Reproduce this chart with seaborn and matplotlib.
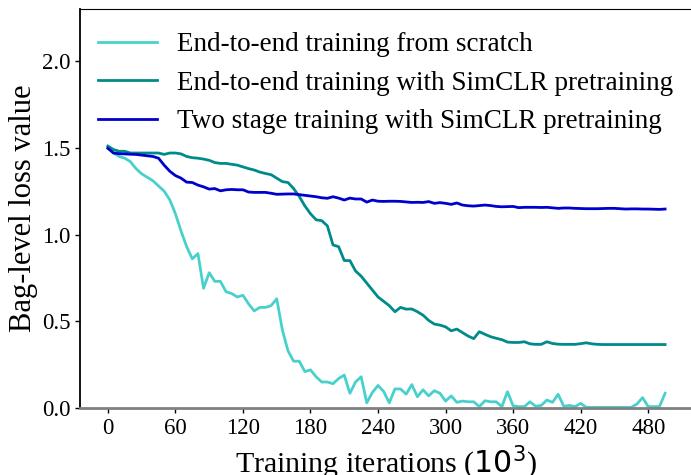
import numpy as np
import pandas as pd
import seaborn as sns
import matplotlib
matplotlib.use("Agg")
import matplotlib.pyplot as plt

# training iterations (x 10^3), one point every 5k
iters = list(range(0, 500, 5))

scratch = [1.50, 1.47, 1.45, 1.44, 1.42, 1.38, 1.35, 1.33, 1.31, 1.28,
           1.25, 1.20, 1.12, 1.02, 0.93, 0.86, 0.89, 0.69, 0.78, 0.73,
           0.73, 0.67, 0.66, 0.64, 0.65, 0.60, 0.56, 0.58, 0.58, 0.59,
           0.63, 0.45, 0.33, 0.27, 0.27, 0.21, 0.22, 0.18, 0.15, 0.15,
           0.14, 0.17, 0.19, 0.085, 0.15, 0.18, 0.03, 0.09, 0.13, 0.095,
           0.03, 0.11, 0.11, 0.08, 0.135, 0.065, 0.105, 0.07, 0.10, 0.085,
           0.04, 0.07, 0.033, 0.04, 0.036, 0.036, 0.008, 0.042, 0.036, 0.036,
           0.008, 0.094, 0.013, 0.008, 0.008, 0.036, 0.01, 0.015, 0.046, 0.033,
           0.079, 0.01, 0.015, 0.008, 0.027, 0.004, 0.004, 0.004, 0.004, 0.004,
           0.004, 0.004, 0.004, 0.004, 0.023, 0.06, 0.008, 0.008, 0.008, 0.085]

simclr_e2e = [1.51, 1.49, 1.48, 1.48, 1.47, 1.47, 1.47, 1.47, 1.47, 1.47,
              1.462, 1.47, 1.47, 1.465, 1.45, 1.443, 1.44, 1.435, 1.428, 1.415,
              1.41, 1.41, 1.405, 1.40, 1.39, 1.38, 1.372, 1.36, 1.352, 1.345,
              1.325, 1.305, 1.30, 1.265, 1.22, 1.165, 1.12, 1.085, 1.08, 1.05,
              0.94, 0.93, 0.85, 0.85, 0.79, 0.76, 0.72, 0.68, 0.64, 0.615,
              0.59, 0.555, 0.58, 0.57, 0.571, 0.555, 0.535, 0.505, 0.484, 0.478,
              0.468, 0.445, 0.455, 0.435, 0.415, 0.40, 0.44, 0.425, 0.411, 0.402,
              0.394, 0.38, 0.378, 0.378, 0.382, 0.37, 0.367, 0.367, 0.382, 0.372,
              0.368, 0.367, 0.367, 0.367, 0.371, 0.376, 0.37, 0.367, 0.366, 0.366,
              0.366, 0.366, 0.366, 0.366, 0.366, 0.366, 0.366, 0.366, 0.366, 0.366]

two_stage = [1.497, 1.47, 1.466, 1.465, 1.463, 1.462, 1.458, 1.454, 1.45, 1.44,
             1.40, 1.365, 1.34, 1.325, 1.302, 1.30, 1.285, 1.275, 1.262, 1.265,
             1.252, 1.258, 1.26, 1.258, 1.258, 1.245, 1.243, 1.243, 1.243, 1.238,
             1.232, 1.233, 1.234, 1.234, 1.23, 1.226, 1.222, 1.218, 1.212, 1.209,
             1.218, 1.21, 1.199, 1.21, 1.205, 1.205, 1.187, 1.199, 1.192, 1.191,
             1.192, 1.192, 1.191, 1.188, 1.185, 1.186, 1.185, 1.19, 1.18, 1.184,
             1.18, 1.174, 1.182, 1.17, 1.166, 1.164, 1.167, 1.17, 1.167, 1.162,
             1.16, 1.161, 1.162, 1.155, 1.157, 1.157, 1.157, 1.156, 1.157, 1.154,
             1.151, 1.153, 1.153, 1.151, 1.15, 1.149, 1.149, 1.149, 1.15, 1.151,
             1.151, 1.149, 1.147, 1.148, 1.148, 1.147, 1.147, 1.146, 1.145, 1.147]

labels = ["End-to-end training from scratch",
          "End-to-end training with SimCLR pretraining",
          "Two stage training with SimCLR pretraining"]
colors = ["mediumturquoise", "darkcyan", "mediumblue"]

df = pd.DataFrame({
    "iter": iters * 3,
    "loss": scratch + simclr_e2e + two_stage,
    "method": [labels[0]] * len(iters) + [labels[1]] * len(iters) + [labels[2]] * len(iters),
})

plt.rcParams["font.family"] = ["Liberation Serif", "DejaVu Sans"]
plt.rcParams["mathtext.fontset"] = "dejavusans"

fig = plt.figure(figsize=(6.91, 4.75), dpi=100)
ax = fig.add_axes([0.1158, 0.141, 0.887, 0.84])

sns.lineplot(data=df, x="iter", y="loss", hue="method", hue_order=labels,
             palette=colors, linewidth=2, ax=ax)

ax.set_ylim(0, 2.3)
ax.set_xticks(range(0, 481, 60))
ax.set_yticks([0.0, 0.5, 1.0, 1.5, 2.0])
ax.set_yticklabels(["0.0", "0.5", "1.0", "1.5", "2.0"])
ax.tick_params(labelsize=16.5, length=3.5, width=1)
ax.set_xlabel("Training iterations ($10^3$)", fontsize=21.5, labelpad=4)
ax.set_ylabel("Bag-level loss value", fontsize=22, labelpad=3)

ax.spines["bottom"].set_color("gray")
ax.spines["bottom"].set_linewidth(2)
ax.spines["left"].set_linewidth(1.3)

ax.legend(frameon=False, fontsize=19.5, loc="upper left",
          bbox_to_anchor=(-0.009, 1.0),
          handlelength=2.2, handletextpad=0.75, labelspacing=0.5,
          borderaxespad=0.45)

fig.savefig("out.png", dpi=100)
